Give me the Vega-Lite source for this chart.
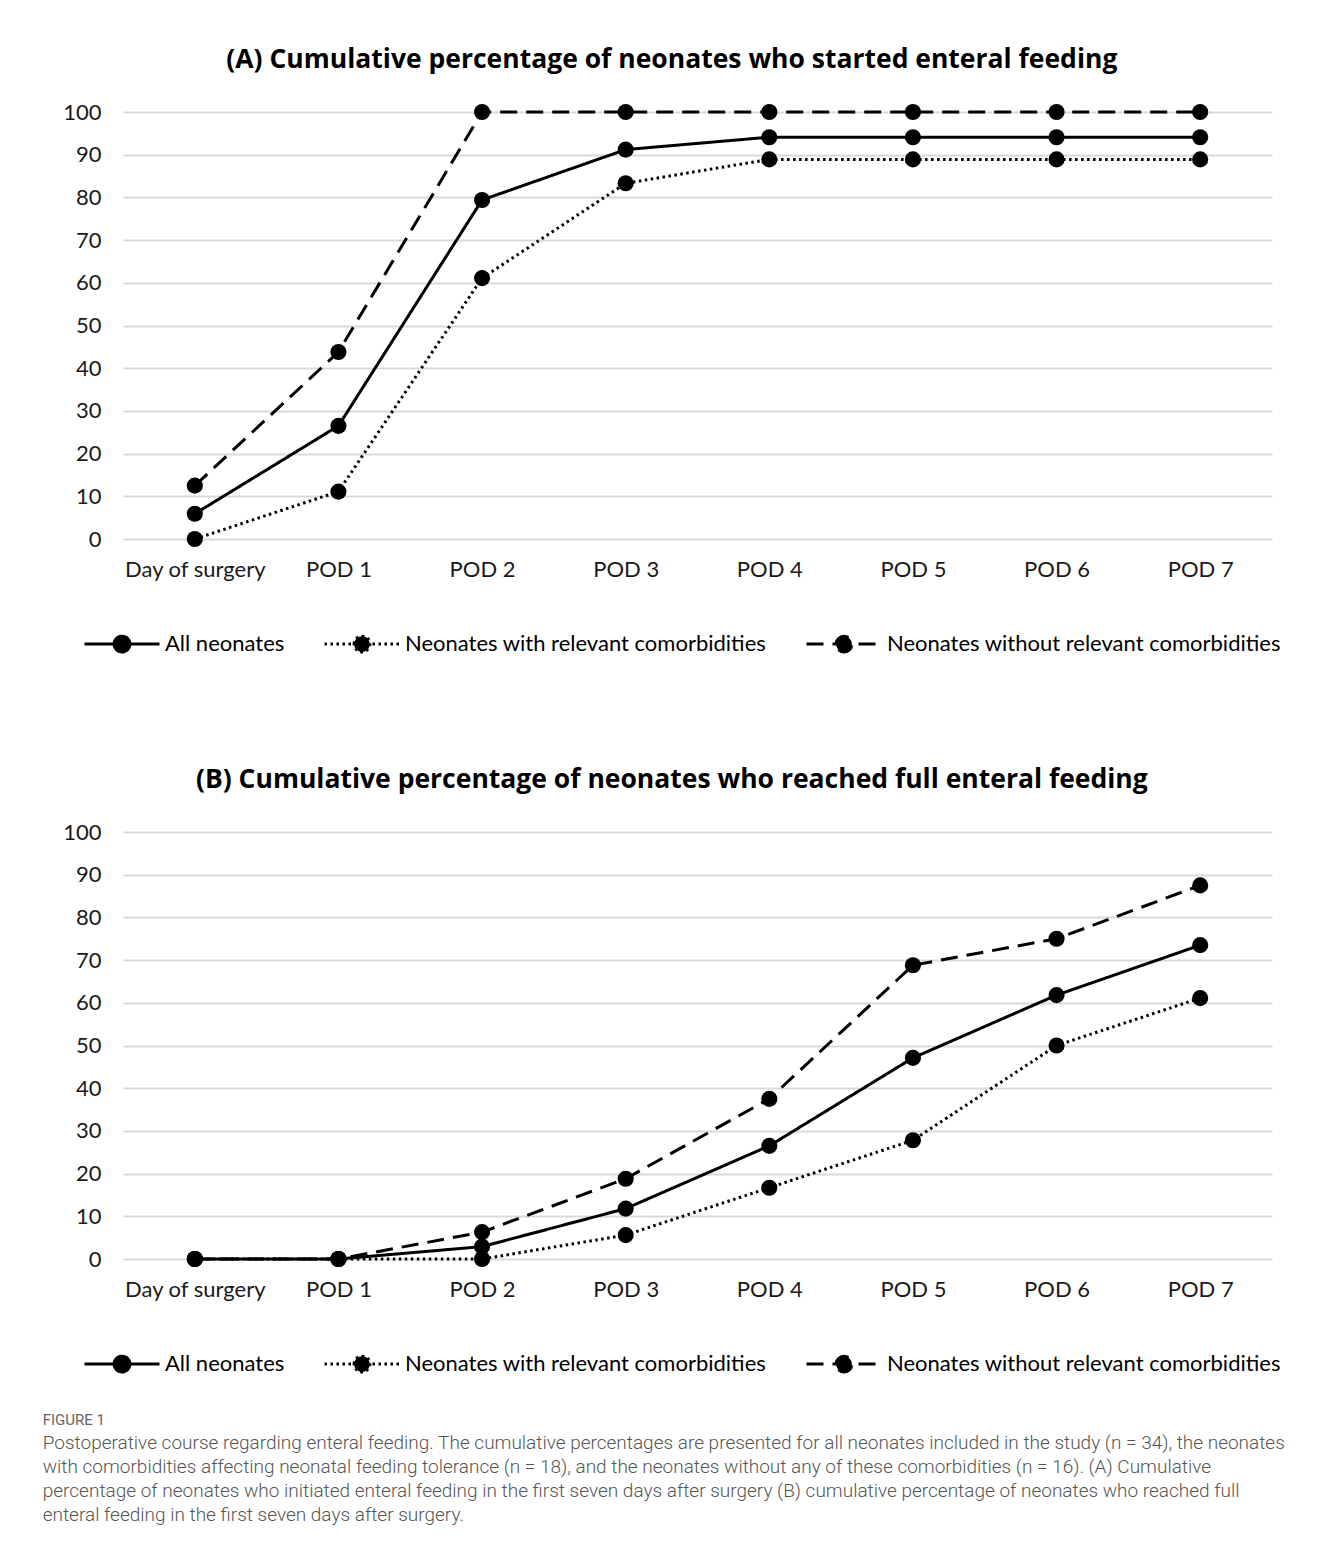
{
  "$schema": "https://vega.github.io/schema/vega-lite/v6.json",
  "background": "white",
  "padding": {"left": 42, "top": 46, "right": 40, "bottom": 20},
  "datasets": {
    "A": [
      {"day": "Day of surgery", "group": "All neonates", "value": 5.9},
      {"day": "POD 1", "group": "All neonates", "value": 26.5},
      {"day": "POD 2", "group": "All neonates", "value": 79.4},
      {"day": "POD 3", "group": "All neonates", "value": 91.2},
      {"day": "POD 4", "group": "All neonates", "value": 94.1},
      {"day": "POD 5", "group": "All neonates", "value": 94.1},
      {"day": "POD 6", "group": "All neonates", "value": 94.1},
      {"day": "POD 7", "group": "All neonates", "value": 94.1},
      {"day": "Day of surgery", "group": "Neonates with relevant comorbidities", "value": 0},
      {"day": "POD 1", "group": "Neonates with relevant comorbidities", "value": 11.1},
      {"day": "POD 2", "group": "Neonates with relevant comorbidities", "value": 61.1},
      {"day": "POD 3", "group": "Neonates with relevant comorbidities", "value": 83.3},
      {"day": "POD 4", "group": "Neonates with relevant comorbidities", "value": 88.9},
      {"day": "POD 5", "group": "Neonates with relevant comorbidities", "value": 88.9},
      {"day": "POD 6", "group": "Neonates with relevant comorbidities", "value": 88.9},
      {"day": "POD 7", "group": "Neonates with relevant comorbidities", "value": 88.9},
      {"day": "Day of surgery", "group": "Neonates without relevant comorbidities", "value": 12.5},
      {"day": "POD 1", "group": "Neonates without relevant comorbidities", "value": 43.8},
      {"day": "POD 2", "group": "Neonates without relevant comorbidities", "value": 100},
      {"day": "POD 3", "group": "Neonates without relevant comorbidities", "value": 100},
      {"day": "POD 4", "group": "Neonates without relevant comorbidities", "value": 100},
      {"day": "POD 5", "group": "Neonates without relevant comorbidities", "value": 100},
      {"day": "POD 6", "group": "Neonates without relevant comorbidities", "value": 100},
      {"day": "POD 7", "group": "Neonates without relevant comorbidities", "value": 100}
    ],
    "B": [
      {"day": "Day of surgery", "group": "All neonates", "value": 0},
      {"day": "POD 1", "group": "All neonates", "value": 0},
      {"day": "POD 2", "group": "All neonates", "value": 2.9},
      {"day": "POD 3", "group": "All neonates", "value": 11.8},
      {"day": "POD 4", "group": "All neonates", "value": 26.5},
      {"day": "POD 5", "group": "All neonates", "value": 47.1},
      {"day": "POD 6", "group": "All neonates", "value": 61.8},
      {"day": "POD 7", "group": "All neonates", "value": 73.5},
      {"day": "Day of surgery", "group": "Neonates with relevant comorbidities", "value": 0},
      {"day": "POD 1", "group": "Neonates with relevant comorbidities", "value": 0},
      {"day": "POD 2", "group": "Neonates with relevant comorbidities", "value": 0},
      {"day": "POD 3", "group": "Neonates with relevant comorbidities", "value": 5.6},
      {"day": "POD 4", "group": "Neonates with relevant comorbidities", "value": 16.7},
      {"day": "POD 5", "group": "Neonates with relevant comorbidities", "value": 27.8},
      {"day": "POD 6", "group": "Neonates with relevant comorbidities", "value": 50},
      {"day": "POD 7", "group": "Neonates with relevant comorbidities", "value": 61.1},
      {"day": "Day of surgery", "group": "Neonates without relevant comorbidities", "value": 0},
      {"day": "POD 1", "group": "Neonates without relevant comorbidities", "value": 0},
      {"day": "POD 2", "group": "Neonates without relevant comorbidities", "value": 6.3},
      {"day": "POD 3", "group": "Neonates without relevant comorbidities", "value": 18.8},
      {"day": "POD 4", "group": "Neonates without relevant comorbidities", "value": 37.5},
      {"day": "POD 5", "group": "Neonates without relevant comorbidities", "value": 68.8},
      {"day": "POD 6", "group": "Neonates without relevant comorbidities", "value": 75},
      {"day": "POD 7", "group": "Neonates without relevant comorbidities", "value": 87.5}
    ]
  },
  "title": {
    "text": "FIGURE 1",
    "subtitle": [
      "Postoperative course regarding enteral feeding. The cumulative percentages are presented for all neonates included in the study (n = 34), the neonates",
      "with comorbidities affecting neonatal feeding tolerance (n = 18), and the neonates without any of these comorbidities (n = 16). (A) Cumulative",
      "percentage of neonates who initiated enteral feeding in the first seven days after surgery (B) cumulative percentage of neonates who reached full",
      "enteral feeding in the first seven days after surgery."
    ],
    "orient": "bottom",
    "anchor": "start",
    "frame": "bounds",
    "font": "Roboto",
    "fontSize": 15,
    "fontWeight": "normal",
    "color": "#666666",
    "subtitleFont": "Roboto",
    "subtitleFontSize": 19,
    "subtitleFontWeight": 300,
    "subtitleColor": "#555555",
    "subtitleLineHeight": 24,
    "subtitlePadding": 6,
    "offset": 35,
    "dx": -20
  },
  "spacing": 108,
  "resolve": {"scale": {"strokeDash": "independent"}, "legend": {"strokeDash": "independent"}},
  "vconcat": [
    {
      "title": {"text": "(A) Cumulative percentage of neonates who started enteral feeding"},
      "width": 1149,
      "height": 427,
      "data": {"name": "A"},
      "layer": [
        {
          "mark": {"type": "line", "color": "black", "strokeWidth": 3},
          "encoding": {
            "x": {"field": "day", "type": "ordinal", "sort": ["Day of surgery", "POD 1", "POD 2", "POD 3", "POD 4", "POD 5", "POD 6", "POD 7"], "scale": {"type": "point", "padding": 0.5}, "axis": {"title": null}},
            "y": {"field": "value", "type": "quantitative", "scale": {"domain": [0, 100]}, "axis": {"title": null, "values": [0, 10, 20, 30, 40, 50, 60, 70, 80, 90, 100]}},
            "strokeDash": {
              "field": "group", "type": "nominal",
              "scale": {"domain": ["All neonates", "Neonates with relevant comorbidities", "Neonates without relevant comorbidities"], "range": [[1, 0], [2.5, 3.5], [17, 9]]},
              "legend": {
                "title": null, "orient": "none", "direction": "horizontal", "legendX": -40, "legendY": 493,
                "symbolType": "M-1,0H1M-0.21,0A0.21,0.21,0,1,1,0.21,0A0.21,0.21,0,1,1,-0.21,0Z",
                "symbolSize": 5625, "symbolStrokeWidth": 3, "symbolStrokeColor": "black", "symbolFillColor": "black",
                "encode": {"symbols": {"update": {"fill": {"value": "black"}, "stroke": {"value": "black"}}}}
              }
            }
          }
        },
        {
          "mark": {"type": "point", "filled": true, "color": "black", "opacity": 1, "size": 260},
          "encoding": {
            "x": {"field": "day", "type": "ordinal", "sort": ["Day of surgery", "POD 1", "POD 2", "POD 3", "POD 4", "POD 5", "POD 6", "POD 7"]},
            "y": {"field": "value", "type": "quantitative"},
            "detail": {"field": "group"}
          }
        }
      ]
    },
    {
      "title": {"text": "(B) Cumulative percentage of neonates who reached full enteral feeding"},
      "width": 1149,
      "height": 427,
      "data": {"name": "B"},
      "layer": [
        {
          "mark": {"type": "line", "color": "black", "strokeWidth": 3},
          "encoding": {
            "x": {"field": "day", "type": "ordinal", "sort": ["Day of surgery", "POD 1", "POD 2", "POD 3", "POD 4", "POD 5", "POD 6", "POD 7"], "scale": {"type": "point", "padding": 0.5}, "axis": {"title": null}},
            "y": {"field": "value", "type": "quantitative", "scale": {"domain": [0, 100]}, "axis": {"title": null, "values": [0, 10, 20, 30, 40, 50, 60, 70, 80, 90, 100]}},
            "strokeDash": {
              "field": "group", "type": "nominal",
              "scale": {"domain": ["All neonates", "Neonates with relevant comorbidities", "Neonates without relevant comorbidities"], "range": [[1, 0], [2.5, 3.5], [17, 9]]},
              "legend": {
                "title": null, "orient": "none", "direction": "horizontal", "legendX": -40, "legendY": 493,
                "symbolType": "M-1,0H1M-0.21,0A0.21,0.21,0,1,1,0.21,0A0.21,0.21,0,1,1,-0.21,0Z",
                "symbolSize": 5625, "symbolStrokeWidth": 3, "symbolStrokeColor": "black", "symbolFillColor": "black",
                "encode": {"symbols": {"update": {"fill": {"value": "black"}, "stroke": {"value": "black"}}}}
              }
            }
          }
        },
        {
          "mark": {"type": "point", "filled": true, "color": "black", "opacity": 1, "size": 260},
          "encoding": {
            "x": {"field": "day", "type": "ordinal", "sort": ["Day of surgery", "POD 1", "POD 2", "POD 3", "POD 4", "POD 5", "POD 6", "POD 7"]},
            "y": {"field": "value", "type": "quantitative"},
            "detail": {"field": "group"}
          }
        }
      ]
    }
  ],
  "config": {
    "view": {"stroke": null},
    "title": {"font": "Open Sans", "fontSize": 26.5, "fontWeight": "bold", "color": "black", "anchor": "middle", "frame": "bounds", "offset": 28},
    "axis": {"labelFont": "Lato", "labelFontSize": 22, "labelColor": "#1a1a1a", "ticks": false, "domain": false},
    "axisX": {"grid": false, "labelAngle": 0, "labelPadding": 20},
    "axisY": {"grid": true, "gridColor": "#d9d9d9", "gridWidth": 2, "labelPadding": 22},
    "legend": {"labelFont": "Lato", "labelFontSize": 22, "labelColor": "black", "labelOffset": 4, "columnPadding": 33, "labelLimit": 0}
  }
}
